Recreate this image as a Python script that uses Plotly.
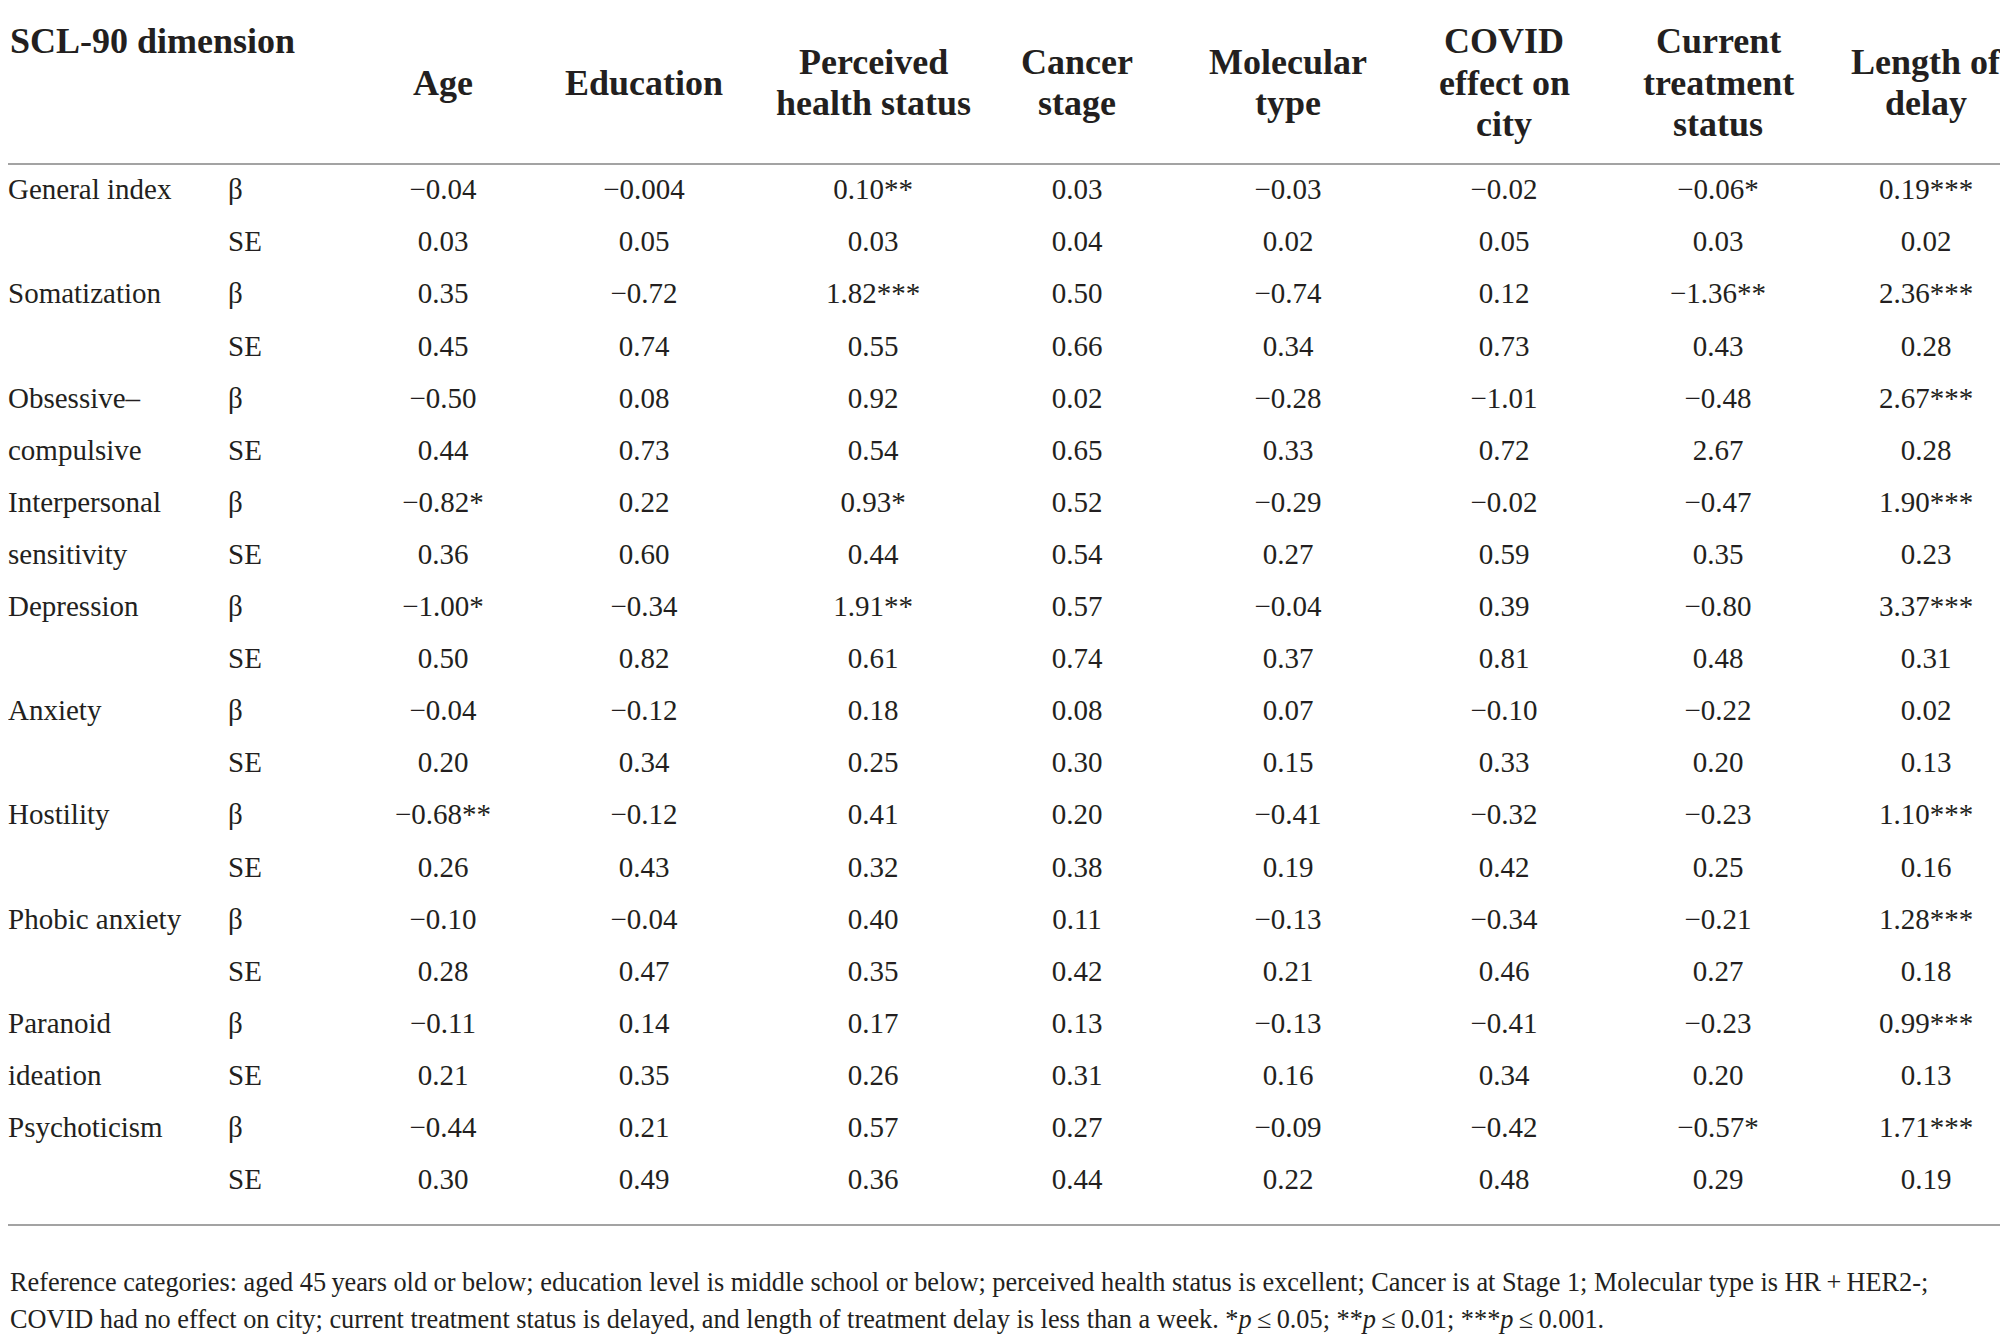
import plotly.graph_objects as go

# column headers (one list entry per header line) and row labels
columns = [["Age"], ["Education"], ["Perceived", "health status"], ["Cancer", "stage"],
           ["Molecular", "type"], ["COVID", "effect on", "city"], ["Current", "treatment", "status"],
           ["Length of", "delay"]]
dimensions = ["General index", "Somatization", "Obsessive\u2013", "Interpersonal", "Depression",
              "Anxiety", "Hostility", "Phobic anxiety", "Paranoid", "Psychoticism"]
second_lines = ["", "", "compulsive", "sensitivity", "", "", "", "", "ideation", ""]
stat_labels = ["\u03b2", "SE"]

# values per dimension: beta row, SE row
general_index = [["\u22120.04", "\u22120.004", "0.10**", "0.03", "\u22120.03", "\u22120.02", "\u22120.06*", "0.19***"],
                 ["0.03", "0.05", "0.03", "0.04", "0.02", "0.05", "0.03", "0.02"]]
somatization = [["0.35", "\u22120.72", "1.82***", "0.50", "\u22120.74", "0.12", "\u22121.36**", "2.36***"],
                ["0.45", "0.74", "0.55", "0.66", "0.34", "0.73", "0.43", "0.28"]]
obsessive = [["\u22120.50", "0.08", "0.92", "0.02", "\u22120.28", "\u22121.01", "\u22120.48", "2.67***"],
             ["0.44", "0.73", "0.54", "0.65", "0.33", "0.72", "2.67", "0.28"]]
interpersonal = [["\u22120.82*", "0.22", "0.93*", "0.52", "\u22120.29", "\u22120.02", "\u22120.47", "1.90***"],
                 ["0.36", "0.60", "0.44", "0.54", "0.27", "0.59", "0.35", "0.23"]]
depression = [["\u22121.00*", "\u22120.34", "1.91**", "0.57", "\u22120.04", "0.39", "\u22120.80", "3.37***"],
              ["0.50", "0.82", "0.61", "0.74", "0.37", "0.81", "0.48", "0.31"]]
anxiety = [["\u22120.04", "\u22120.12", "0.18", "0.08", "0.07", "\u22120.10", "\u22120.22", "0.02"],
           ["0.20", "0.34", "0.25", "0.30", "0.15", "0.33", "0.20", "0.13"]]
hostility = [["\u22120.68**", "\u22120.12", "0.41", "0.20", "\u22120.41", "\u22120.32", "\u22120.23", "1.10***"],
             ["0.26", "0.43", "0.32", "0.38", "0.19", "0.42", "0.25", "0.16"]]
phobic = [["\u22120.10", "\u22120.04", "0.40", "0.11", "\u22120.13", "\u22120.34", "\u22120.21", "1.28***"],
          ["0.28", "0.47", "0.35", "0.42", "0.21", "0.46", "0.27", "0.18"]]
paranoid = [["\u22120.11", "0.14", "0.17", "0.13", "\u22120.13", "\u22120.41", "\u22120.23", "0.99***"],
            ["0.21", "0.35", "0.26", "0.31", "0.16", "0.34", "0.20", "0.13"]]
psychoticism = [["\u22120.44", "0.21", "0.57", "0.27", "\u22120.09", "\u22120.42", "\u22120.57*", "1.71***"],
                ["0.30", "0.49", "0.36", "0.44", "0.22", "0.48", "0.29", "0.19"]]

all_values = [general_index, somatization, obsessive, interpersonal, depression,
              anxiety, hostility, phobic, paranoid, psychoticism]

footnote_lines = [
    "Reference categories: aged 45\u2009years old or below; education level is middle school or below; "
    "perceived health status is excellent; Cancer is at Stage 1; Molecular type is HR\u2009+\u2009HER2-;",
    "COVID had no effect on city; current treatment status is delayed, and length of treatment delay is "
    "less than a week. *<i>p</i>\u2009\u2264\u20090.05; **<i>p</i>\u2009\u2264\u20090.01; ***<i>p</i>\u2009\u2264\u20090.001.",
]

# layout: axis units are page pixels (the page body has an 8px margin)
W, H = 2008, 1343
OFF = 8
col_x = [443, 644, 873, 1077, 1288, 1504, 1718, 1926]
stat_x = 228
left_x = OFF
row_top = 192
row_step = 52.1
head_mid = 82.5
head_step = 41.6
FONT = "Liberation Serif"
INK = "#231f20"
RULE = "#a3a3a3"

# build the cell lists
xs, ys, texts = [], [], []
lab_x, lab_y, lab_t = [], [], []
for d, vals in enumerate(all_values):
    for s in range(2):
        r = d * 2 + s
        y = row_top + row_step * r
        lab_x += [stat_x, left_x]
        lab_y += [y, y]
        lab_t += [stat_labels[s], dimensions[d] if s == 0 else second_lines[d]]
        for j, v in enumerate(vals[s]):
            xs.append(col_x[j])
            ys.append(y)
            texts.append(v)

fig = go.Figure()
fig.add_trace(go.Scatter(x=xs, y=ys, text=texts, mode="text", textposition="middle center",
                         textfont=dict(family=FONT, size=29, color=INK), hoverinfo="skip",
                         cliponaxis=False))
fig.add_trace(go.Scatter(x=lab_x, y=lab_y, text=lab_t, mode="text", textposition="middle right",
                         textfont=dict(family=FONT, size=29, color=INK), hoverinfo="skip",
                         cliponaxis=False))

# header
fig.add_annotation(x=left_x, y=41, text="<b>SCL-90 dimension</b>", showarrow=False, xanchor="left",
                   yanchor="middle", font=dict(family=FONT, size=36, color=INK))
for j, lines in enumerate(columns):
    n = len(lines)
    for k, line in enumerate(lines):
        fig.add_annotation(x=col_x[j], y=head_mid + (k - (n - 1) / 2) * head_step,
                           text="<b>" + line + "</b>", showarrow=False, xanchor="center",
                           yanchor="middle", font=dict(family=FONT, size=36, color=INK))

# footnote
for k, line in enumerate(footnote_lines):
    fig.add_annotation(x=left_x, y=1282 + k * 37, text=line, showarrow=False, xanchor="left",
                       yanchor="middle", align="left", font=dict(family=FONT, size=26.3, color=INK))

# rules
for yy in [164, 1225]:
    fig.add_shape(type="line", xref="paper", x0=0, x1=1, y0=yy, y1=yy,
                  line=dict(color=RULE, width=2))

fig.update_layout(
    width=W, height=H, autosize=False,
    margin=dict(l=0, r=0, t=0, b=0),
    paper_bgcolor="white", plot_bgcolor="white",
    showlegend=False,
    xaxis=dict(range=[OFF, W + OFF], visible=False, fixedrange=True),
    yaxis=dict(range=[H + OFF, OFF], visible=False, fixedrange=True),
)

fig.write_html("out.html")
